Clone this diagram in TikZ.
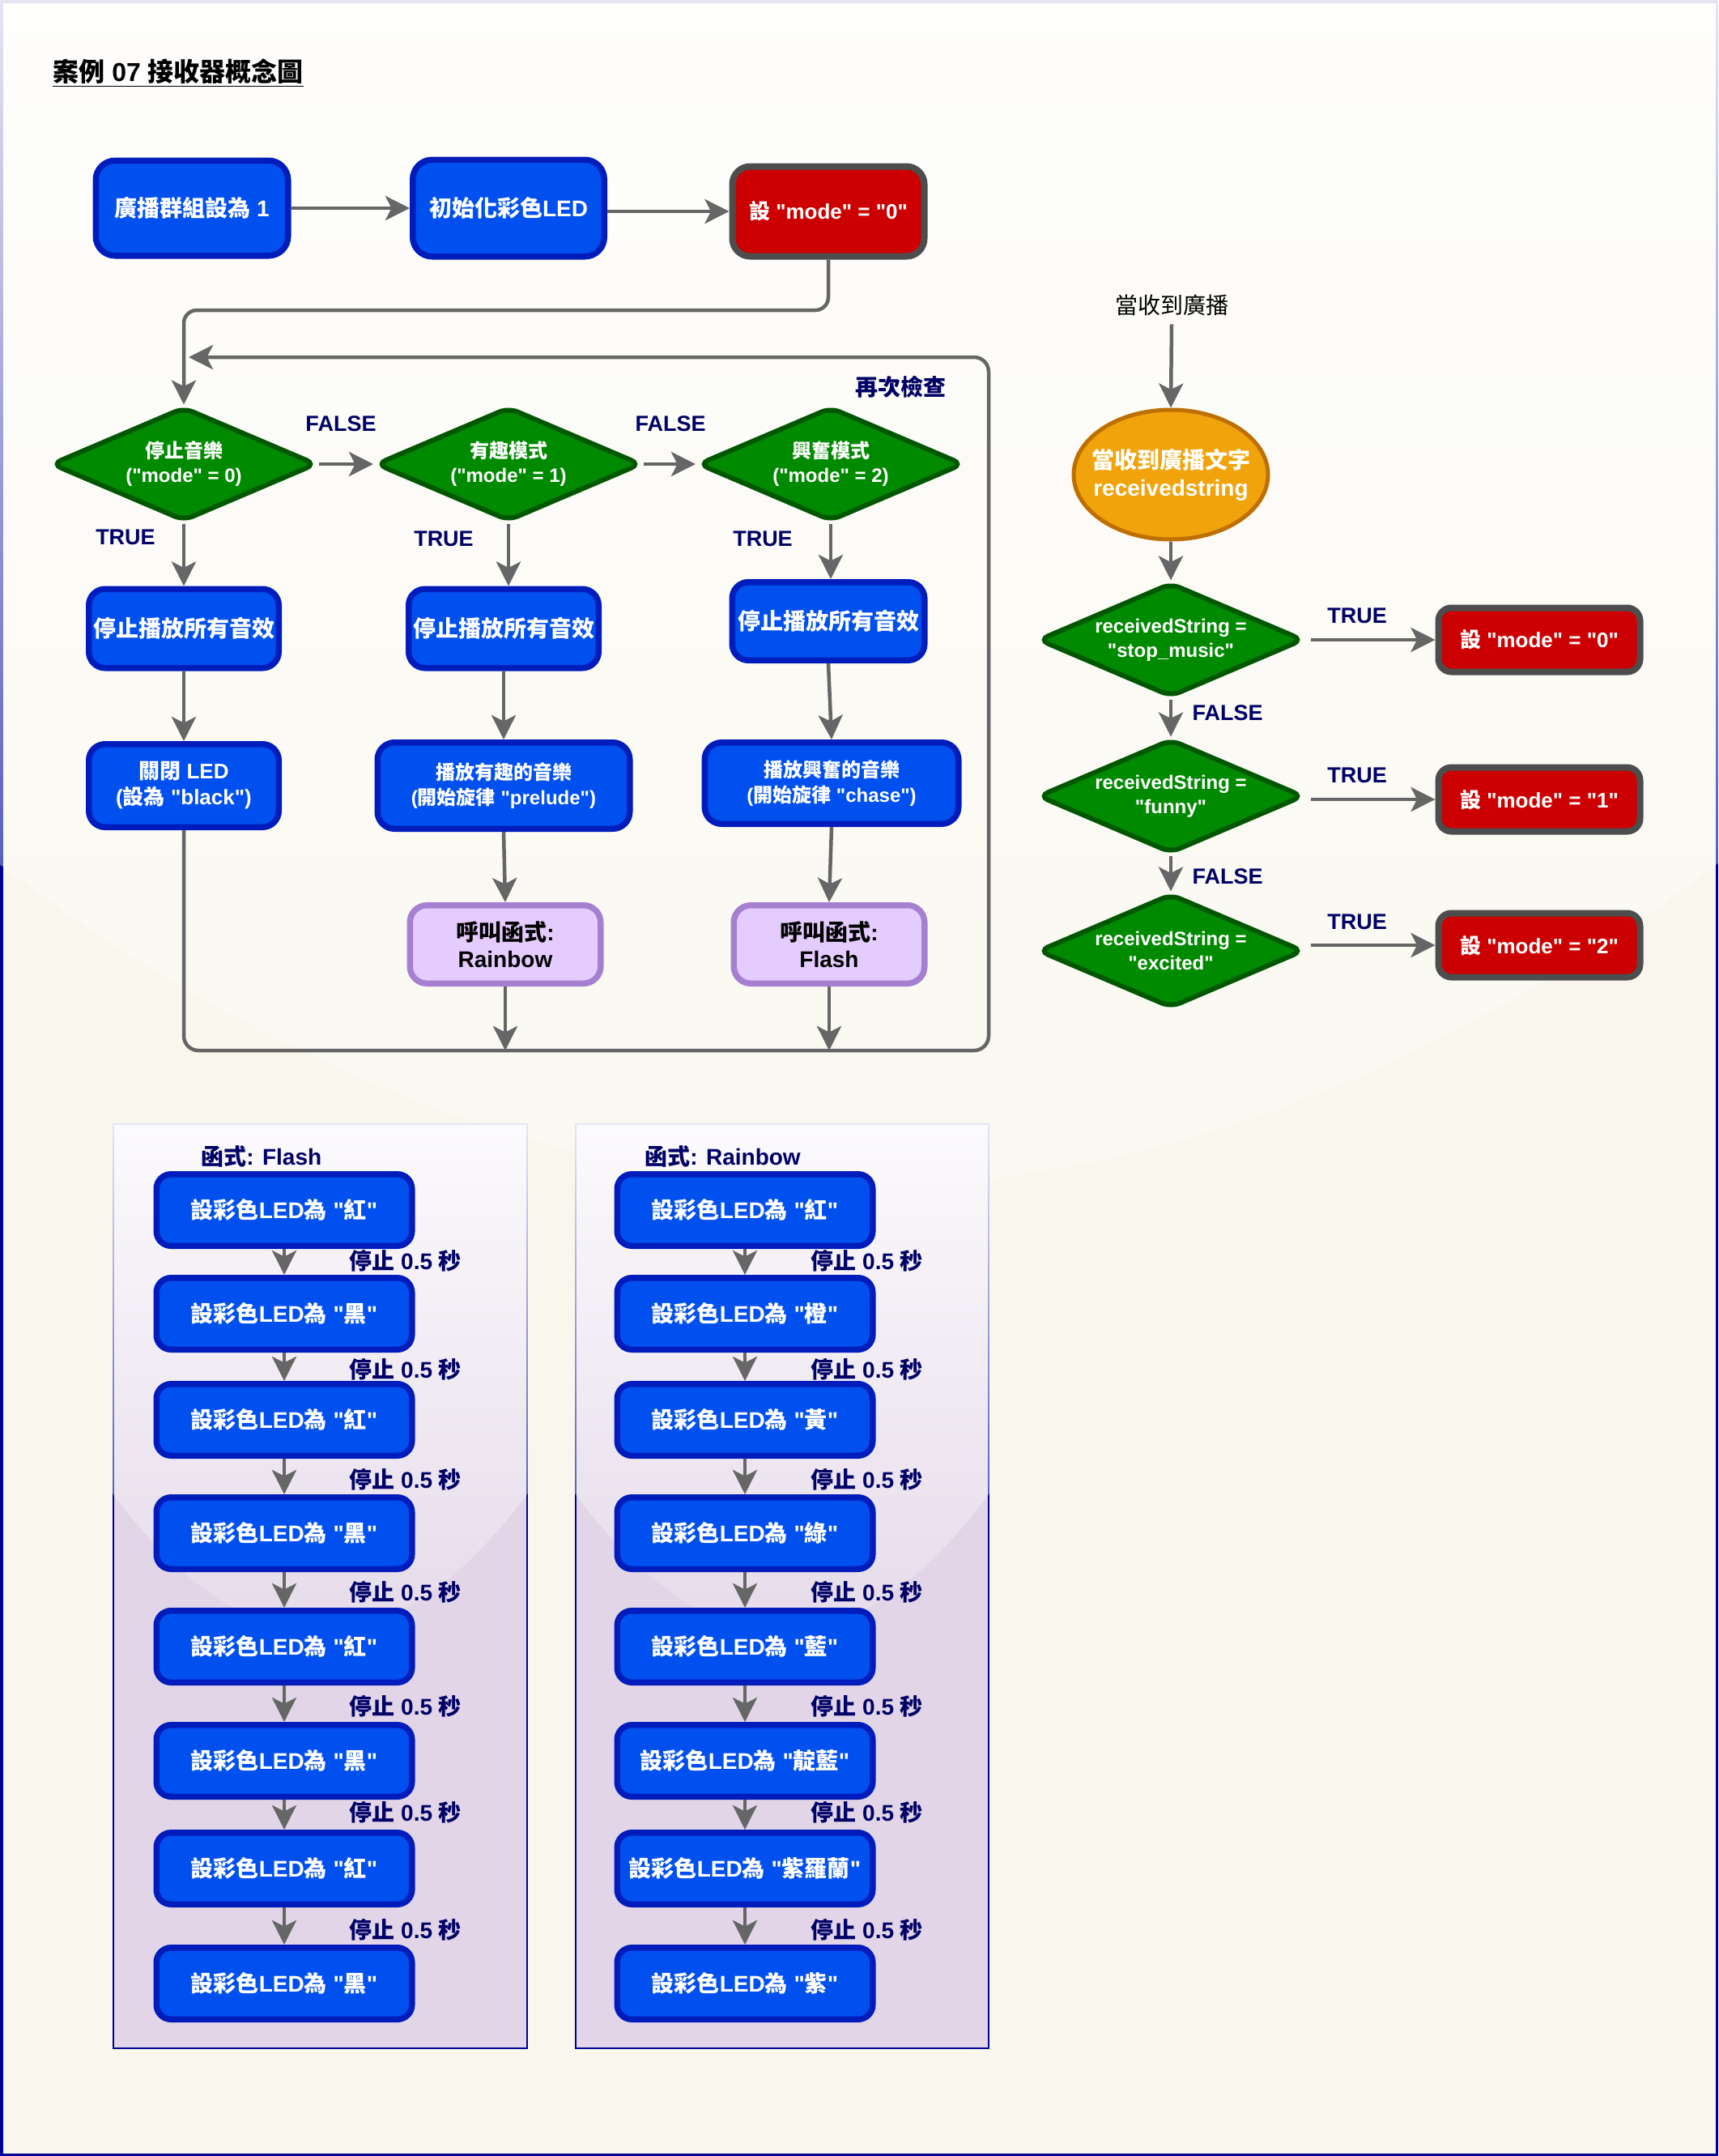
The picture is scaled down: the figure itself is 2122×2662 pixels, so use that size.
\documentclass[tikz,border=0pt]{standalone}
\usepackage{fontspec}
\setmainfont{Liberation Sans}[Ligatures=TeXOff]
\newfontfamily\cjkfont{Noto Sans CJK TC}[Ligatures=TeXOff]
\usetikzlibrary{arrows.meta,shapes.geometric,fadings}
\XeTeXinterchartokenstate=1
\newXeTeXintercharclass\CJKcls
\newcount\cjkcnt
\cjkcnt="21
\loop
  \XeTeXcharclass\cjkcnt=0
  \advance\cjkcnt by 1
\ifnum\cjkcnt<"7F \repeat
\cjkcnt="3000
\loop
  \XeTeXcharclass\cjkcnt=\CJKcls
  \advance\cjkcnt by 1
\ifnum\cjkcnt<"A000 \repeat
\XeTeXinterchartoks 0 \CJKcls = {\cjkfont}
\XeTeXinterchartoks 4095 \CJKcls = {\cjkfont}
\XeTeXinterchartoks \CJKcls 0 = {\rmfamily}
\XeTeXinterchartoks \CJKcls 4095 = {\rmfamily}

\definecolor{cgray}{HTML}{666666}
\definecolor{cblue}{HTML}{0050EF}
\definecolor{cbluedk}{HTML}{001DBC}
\definecolor{cred}{HTML}{CC0000}
\definecolor{credst}{HTML}{4D4D4D}
\definecolor{cgreen}{HTML}{008A00}
\definecolor{cgreenst}{HTML}{005700}
\definecolor{corange}{HTML}{F0A30A}
\definecolor{corangest}{HTML}{BD7000}
\definecolor{cpur}{HTML}{E5CCFF}
\definecolor{cpurst}{HTML}{A680D0}
\definecolor{cnavy}{HTML}{000066}
\definecolor{cnavyb}{HTML}{000099}
\definecolor{pagebg}{HTML}{F9F7ED}
\definecolor{contbg}{HTML}{E1D5E7}

\tikzfading[name=glassfade, top color=transparent!10, bottom color=transparent!90]

\tikzset{
  shp/.style={align=center, inner sep=0pt},
  bluebox/.style={shp, rectangle, rounded corners=#1, fill=cblue, draw=cbluedk, line width=3.75pt, text=white},
  bluebox/.default=11pt,
  redbox/.style={shp, rectangle, rounded corners=#1, fill=cred, draw=credst, line width=4pt, text=white, font=\fontsize{13}{16}\selectfont\bfseries},
  redbox/.default=10pt,
  purplebox/.style={shp, rectangle, rounded corners=10.5pt, fill=cpur, draw=cpurst, line width=3.75pt, text=black, font=\fontsize{14}{16.5}\selectfont\bfseries, minimum width=117.75pt, minimum height=48.25pt},
  gdiam/.style={diamond, rounded corners=6pt, fill=cgreen, draw=cgreenst, line width=3pt, minimum width=164pt, minimum height=70.5pt, inner sep=0pt},
  dtext/.style={shp, text=white, font=\fontsize{12}{15}\selectfont\bfseries},
  ellnode/.style={ellipse, fill=corange, draw=corangest, line width=2.5pt, minimum width=120pt, minimum height=80pt, inner sep=0pt},
  subbox/.style={bluebox=9pt, minimum width=157.75pt, minimum height=44.25pt, font=\fontsize{14}{16.5}\selectfont\bfseries},
  f28/.style={font=\fontsize{14}{16.5}\selectfont\bfseries},
  lab/.style={shp, text=cnavy, font=\fontsize{13.5}{16}\selectfont\bfseries},
  lab28/.style={shp, text=cnavy, font=\fontsize{14}{16.5}\selectfont\bfseries},
  cline/.style={draw=cgray, line width=2.25pt},
  conn/.style={cline, -{Stealth[length=15pt,width=15pt,inset=3.75pt]}},
  cont/.style={fill=contbg, draw=cnavyb, line width=1pt},
}

\begin{document}
\begin{tikzpicture}[x=0.5pt,y=-0.5pt]
\useasboundingbox (0,0) rectangle (2122,2662);
% page background with glass
\fill[pagebg] (0,0) rectangle (2122,2662);
\draw[draw=cnavyb, line width=1.75pt] (1.75,1.75) rectangle (2120.25,2660.25);
\fill[white, path fading=glassfade] (-2,-2) -- (-2,1065) .. controls (707.3,1597) and (1414.7,1597) .. (2124,1065) -- (2124,-2) -- cycle;

% function containers with glass
\draw[cont] (140,1388) rectangle (651,2529);
\fill[white, path fading=glassfade] (139,1387) -- (139,1844) .. controls (310.3,2072.2) and (480.7,2072.2) .. (652,1844) -- (652,1387) -- cycle;
\draw[cont] (711,1388) rectangle (1221,2529);
\fill[white, path fading=glassfade] (710,1387) -- (710,1844) .. controls (880.7,2072.2) and (1051.3,2072.2) .. (1222,1844) -- (1222,1387) -- cycle;

% title
\node[anchor=west, inner sep=0pt, font=\fontsize{16}{19}\selectfont\bfseries] (title) at (65,90) {\underline{案例 07 接收器概念圖}};

% row 1
\node[bluebox=12pt, f28, minimum width=118.75pt, minimum height=58.75pt] (b1) at (237,257) {廣播群組設為 1};
\node[bluebox=12pt, f28, minimum width=118.25pt, minimum height=59.75pt] (b2) at (628,257) {初始化彩色LED};
\node[redbox=11pt, minimum width=118.5pt, minimum height=55.5pt] (b3) at (1023,261) {設 "mode" = "0"};

% decisions
\node[gdiam] (d1) at (227,573) {};
\node[dtext] (d1t) at (d1) {停止音樂\\("mode" = 0)};
\node[gdiam] (d2) at (628,573) {};
\node[dtext] (d2t) at (d2) {有趣模式\\("mode" = 1)};
\node[gdiam] (d3) at (1026,573) {};
\node[dtext] (d3t) at (d3) {興奮模式\\("mode" = 2)};

% actions
\node[bluebox=10pt, f28, minimum width=117.25pt, minimum height=48.75pt] (s1) at (227,776) {停止播放所有音效};
\node[bluebox=10pt, f28, minimum width=117.25pt, minimum height=48.75pt] (s2) at (622,776) {停止播放所有音效};
\node[bluebox=10pt, f28, minimum width=118.75pt, minimum height=48.25pt] (s3) at (1023,767) {停止播放所有音效};

\node[bluebox=10pt, font=\fontsize{13}{16}\selectfont\bfseries, minimum width=117.25pt, minimum height=51.25pt] (l1) at (227,970) {關閉 LED\\(設為 "black")};
\node[bluebox=10.5pt, font=\fontsize{12}{15.5}\selectfont\bfseries, minimum width=155.75pt, minimum height=53.25pt] (p2) at (622,970) {播放有趣的音樂\\(開始旋律 "prelude")};
\node[bluebox=10.5pt, font=\fontsize{12}{15.5}\selectfont\bfseries, minimum width=156.75pt, minimum height=50.25pt] (p3) at (1027,967) {播放興奮的音樂\\(開始旋律 "chase")};

\node[purplebox] (fr) at (624,1166) {呼叫函式:\\Rainbow};
\node[purplebox] (ff) at (1024,1166) {呼叫函式:\\Flash};

% loop coordinates
\coordinate (h1) at (0,383);
\coordinate (lb) at (0,1297);
\coordinate (lbr) at (1221,1297);
\coordinate (ltr) at (1221,441);
\coordinate (lend) at (233,441);

% connectors main flow
\draw[conn] (b1.east) -- (b2.west);
\draw[conn] (b2.east |- b3.west) -- (b3.west);
\draw[conn, rounded corners=8pt] (b3.south) -- (b3.south |- h1) -- (d1.north |- h1) -- (d1.north);
\draw[conn] (d1.east) -- (d2.west);
\draw[conn] (d2.east) -- (d3.west);
\draw[conn] (d1.south) -- (s1.north);
\draw[conn] (s1.south) -- (l1.north);
\draw[conn] (d2.south) -- (d2.south |- s2.north);
\draw[conn] (s2.south) -- (p2.north);
\draw[conn] (p2.south) -- (fr.north);
\draw[conn] (fr.south) -- (fr.south |- lb);
\draw[conn] (d3.south) -- (d3.south |- s3.north);
\draw[conn] (s3.south) -- (p3.north);
\draw[conn] (p3.south) -- (ff.north);
\draw[conn] (ff.south) -- (ff.south |- lb);
\draw[conn, rounded corners=9pt] (l1.south) -- (l1.south |- lb) -- (lbr) -- (ltr) -- (lend);

% labels main flow
\node[lab] (fl1) at (421,523) {FALSE};
\node[lab] (fl2) at (828,523) {FALSE};
\node[lab] (tr1) at (155,663) {TRUE};
\node[lab] (tr2) at (548,665) {TRUE};
\node[lab] (tr3) at (942,665) {TRUE};
\node[lab28] (again) at (1112,478) {再次檢查};

% right column
\node[shp, font=\fontsize{14}{17}\selectfont, text=black] (rt) at (1447,377) {當收到廣播};
\node[ellnode] (ell) at (1446,586) {};
\node[shp, text=white, font=\fontsize{14}{17}\selectfont\bfseries] (ellt) at (ell) {當收到廣播文字\\receivedstring};
\node[gdiam] (r1) at (1446,790) {};
\node[dtext] (r1t) at (r1) {receivedString =\\"stop\_music"};
\node[gdiam] (r2) at (1446,983) {};
\node[dtext] (r2t) at (r2) {receivedString =\\"funny"};
\node[gdiam] (r3) at (1446,1174) {};
\node[dtext] (r3t) at (r3) {receivedString =\\"excited"};
\node[redbox=8pt, minimum width=124.5pt, minimum height=39.5pt] (m0) at (1901,790) {設 "mode" = "0"};
\node[redbox=8pt, minimum width=124.5pt, minimum height=39.5pt] (m1) at (1901,987) {設 "mode" = "1"};
\node[redbox=8pt, minimum width=124.5pt, minimum height=39.5pt] (m2) at (1901,1167) {設 "mode" = "2"};

\draw[conn] (rt.south) ++(0,10) -- (ell.north);
\draw[conn] (ell.south) -- (r1.north);
\draw[conn] (r1.south) -- (r2.north);
\draw[conn] (r2.south) -- (r3.north);
\draw[conn] (r1.east |- m0.west) ++(6,0) -- (m0.west);
\draw[conn] (r2.east |- m1.west) ++(6,0) -- (m1.west);
\draw[conn] (r3.east |- m2.west) ++(6,0) -- (m2.west);

\node[lab] (rt1) at (1676,760) {TRUE};
\node[lab] (rt2) at (1676,957) {TRUE};
\node[lab] (rt3) at (1676,1138) {TRUE};
\node[lab] (rf1) at (1516,880) {FALSE};
\node[lab] (rf2) at (1516,1082) {FALSE};

% function Flash
\node[lab28, anchor=west] (ftitle) at (248,1428) {函式: Flash};
\foreach \i/\y/\c in {1/1494/紅,2/1622/黑,3/1753/紅,4/1893/黑,5/2033/紅,6/2174/黑,7/2307/紅,8/2449/黑}
  \node[subbox] (fa\i) at (351,\y) {設彩色LED為 "\c"};
% function Rainbow
\node[lab28, anchor=west] (rtitle) at (796,1428) {函式: Rainbow};
\foreach \i/\y/\c in {1/1494/紅,2/1622/橙,3/1753/黃,4/1893/綠,5/2033/藍,6/2174/靛藍,7/2307/紫羅蘭,8/2449/紫}
  \node[subbox] (ra\i) at (920,\y) {設彩色LED為 "\c"};

\foreach \i/\j in {1/2,2/3,3/4,4/5,5/6,6/7,7/8} {
  \draw[conn] (fa\i.south) -- (fa\j.north);
  \draw[conn] (ra\i.south) -- (ra\j.north);
}
\foreach \i/\y in {1/1557,2/1691,3/1827,4/1966,5/2107,6/2238,7/2383} {
  \node[lab28, anchor=west] (fw\i) at (431,\y) {停止 0.5 秒};
  \node[lab28, anchor=west] (rw\i) at (1001,\y) {停止 0.5 秒};
}
\end{tikzpicture}
\end{document}
